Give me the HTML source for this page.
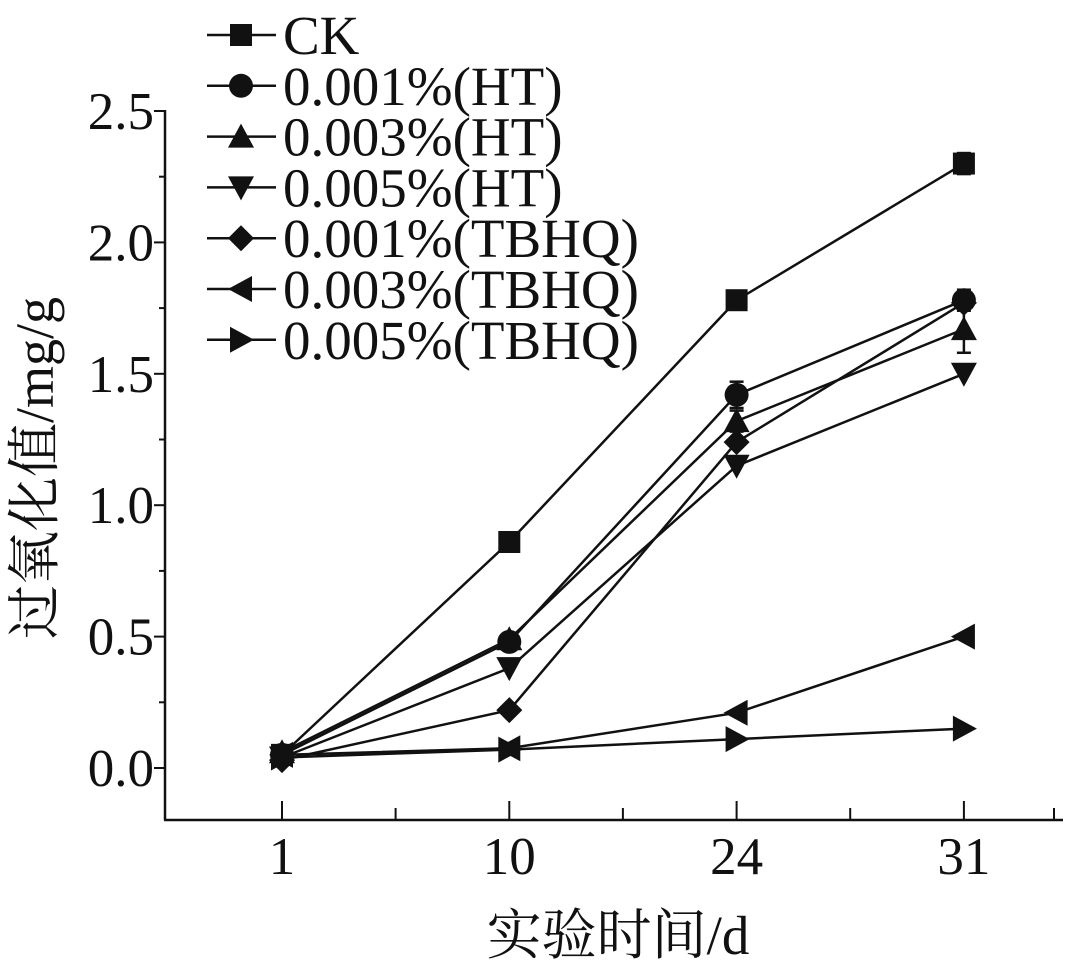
<!DOCTYPE html>
<html><head><meta charset="utf-8"><style>
body{margin:0;background:#fff}
svg{display:block}
text{font-family:"Liberation Serif","Noto Serif CJK SC",serif;fill:#111}
</style></head><body>
<svg id="c" width="1080" height="969" xmlns="http://www.w3.org/2000/svg"></svg>
<script>
const categories = ["1","10","24","31"];
const seriesNames = ["CK","0.001%(HT)","0.003%(HT)","0.005%(HT)","0.001%(TBHQ)","0.003%(TBHQ)","0.005%(TBHQ)"];
const ck = [0.05,0.86,1.78,2.30];
const ht1 = [0.05,0.48,1.42,1.78];
const ht3 = [0.06,0.49,1.32,1.67];
const ht5 = [0.04,0.38,1.15,1.50];
const tb1 = [0.03,0.22,1.24,1.77];
const tb3 = [0.05,0.075,0.21,0.50];
const tb5 = [0.04,0.07,0.11,0.15];
const errCk = [0,0,0.02,0.04];
const errHt1 = [0,0,0.05,0.04];
const errHt3 = [0,0,0.04,0.09];
const yTicks = ["0.0","0.5","1.0","1.5","2.0","2.5"];
const markers = ["square","circle","up","down","diamond","left","right"];
const allSeries = [ck,ht1,ht3,ht5,tb1,tb3,tb5];
const allErr = [errCk,errHt1,errHt3,null,null,null,null];

const NS="http://www.w3.org/2000/svg";
const svg=document.getElementById('c');
function mk(tag,attrs,parent){const e=document.createElementNS(NS,tag);for(const k in attrs)e.setAttribute(k,attrs[k]);(parent||svg).appendChild(e);return e;}
const x0=165,x1=1063,yAx=820;
const xs=i=>282+i*227.3;
const ys=v=>768-v*262.8;

let a=mk('line',{x1:x0,y1:110,x2:x0,y2:yAx,stroke:'#111','stroke-width':2.5});


a=mk('line',{x1:x0-1,y1:yAx,x2:x1,y2:yAx,stroke:'#111','stroke-width':2.5});


yTicks.forEach((t,i)=>{
  const v=parseFloat(t);const y=ys(v);
  mk('line',{x1:x0-11,y1:y,x2:x0,y2:y,stroke:'#111','stroke-width':2});
  if(i<yTicks.length-1)mk('line',{x1:x0-6,y1:ys(v+0.25),x2:x0,y2:ys(v+0.25),stroke:'#111','stroke-width':2});
  const tx=mk('text',{x:154,y:y+18,'text-anchor':'end','font-size':53});
  tx.textContent=t;
  
  
});
categories.forEach((c,i)=>{
  const x=xs(i);
  mk('line',{x1:x,y1:yAx,x2:x,y2:yAx-19,stroke:'#111','stroke-width':2});
  if(i<categories.length-1)mk('line',{x1:x+113.6,y1:yAx,x2:x+113.6,y2:yAx-12,stroke:'#111','stroke-width':2});
  const tx=mk('text',{x:x,y:874,'text-anchor':'middle','font-size':53});
  tx.textContent=c;
  
  
});
mk('line',{x1:1054,y1:yAx,x2:1054,y2:yAx-12,stroke:'#111','stroke-width':2});
let t=mk('text',{x:618,y:954,'text-anchor':'middle','font-size':55});
t.textContent='实验时间/d';


t=mk('text',{x:0,y:0,'text-anchor':'middle','font-size':54,transform:'translate(53,468) rotate(-90)'});
t.textContent='过氧化值/mg/g';



function marker(type,x,y,g){
  const s=11;
  if(type==='square')return mk('rect',{x:x-s,y:y-s,width:2*s,height:2*s,fill:'#111'},g);
  if(type==='circle')return mk('circle',{cx:x,cy:y,r:s+1,fill:'#111'},g);
  let p;
  if(type==='up')p=[[x,y-s-2],[x+s+2,y+s],[x-s-2,y+s]];
  if(type==='down')p=[[x,y+s+2],[x+s+2,y-s],[x-s-2,y-s]];
  if(type==='diamond')p=[[x,y-s-2],[x+s+2,y],[x,y+s+2],[x-s-2,y]];
  if(type==='left')p=[[x-s-2,y],[x+s,y-s-2],[x+s,y+s+2]];
  if(type==='right')p=[[x+s+2,y],[x-s,y-s-2],[x-s,y+s+2]];
  return mk('polygon',{points:p.map(q=>q.join(',')).join(' '),fill:'#111'},g);
}

allSeries.forEach((arr,si)=>{
  const g=mk('g',{});
  
  
  mk('polyline',{points:arr.map((v,i)=>xs(i)+','+ys(v)).join(' '),fill:'none',stroke:'#111','stroke-width':2.5},g);
  const er=allErr[si];
  arr.forEach((v,i)=>{
    if(er&&er[i]>0){
      const yt=ys(v+er[i]),yb=ys(v-er[i]);
      mk('line',{x1:xs(i),y1:yt,x2:xs(i),y2:yb,stroke:'#111','stroke-width':2.5},g);
      mk('line',{x1:xs(i)-7,y1:yt,x2:xs(i)+7,y2:yt,stroke:'#111','stroke-width':2.5},g);
      mk('line',{x1:xs(i)-7,y1:yb,x2:xs(i)+7,y2:yb,stroke:'#111','stroke-width':2.5},g);
    }
    const m=marker(markers[si],xs(i),ys(v),g);
    
    
  });
});

const lg=mk('g',{});


seriesNames.forEach((n,i)=>{
  const y=35+i*50.8;
  const e=mk('g',{},lg);
  
  
  mk('line',{x1:207,y1:y,x2:276,y2:y,stroke:'#111','stroke-width':2.5},e);
  marker(markers[i],241,y,e);
  const tx=mk('text',{x:283,y:y+19,'font-size':55,textLength:0},e);
  tx.removeAttribute('textLength');
  tx.textContent=n;
});
</script>
</body></html>
